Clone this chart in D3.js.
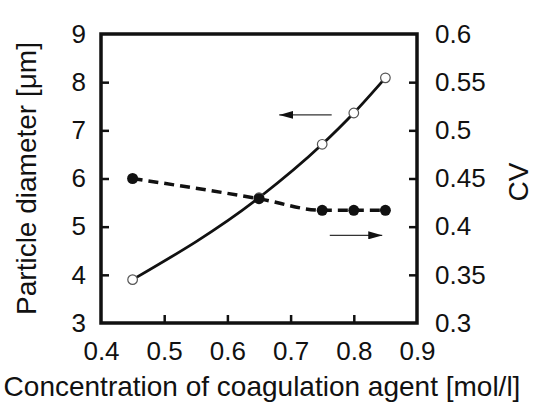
<!DOCTYPE html>
<html>
<head>
<meta charset="utf-8">
<script src="https://cdn.jsdelivr.net/npm/d3@7"></script>
<style>
  body { margin: 0; background: #fff; }
  text { font-family: "Liberation Sans", Arial, sans-serif; fill: #111; }
</style>
</head>
<body>
<svg id="chart" width="546" height="405"></svg>
<script>
  const concentration = [0.45, 0.65, 0.75, 0.80, 0.85];
  const diameter = [3.9, 5.6, 6.71, 7.36, 8.09];
  const cv = [0.45, 0.429, 0.417, 0.417, 0.417];

  const xTicks = [0.4, 0.5, 0.6, 0.7, 0.8, 0.9];
  const yLeftTicks = [3, 4, 5, 6, 7, 8, 9];
  const yRightTicks = [0.3, 0.35, 0.4, 0.45, 0.5, 0.55, 0.6];

  const svg = d3.select("#chart");
  const margin = { top: 34, right: 129, bottom: 82, left: 101 };
  const W = +svg.attr("width"), H = +svg.attr("height");
  const width = W - margin.left - margin.right;
  const height = H - margin.top - margin.bottom;

  const g = svg.append("g")
    .attr("transform", `translate(${margin.left},${margin.top})`);

  const x = d3.scaleLinear().domain([0.4, 0.9]).range([0, width]);
  const yL = d3.scaleLinear().domain([3, 9]).range([height, 0]);
  const yR = d3.scaleLinear().domain([0.3, 0.6]).range([height, 0]);

  const fmt = d3.format("");

  // axes with inward ticks
  const axL = g.append("g")
    .call(d3.axisLeft(yL).tickValues(yLeftTicks).tickSize(-8).tickPadding(15).tickFormat(fmt));
  const axR = g.append("g")
    .attr("transform", `translate(${width},0)`)
    .call(d3.axisRight(yR).tickValues(yRightTicks).tickSize(-8).tickPadding(18).tickFormat(fmt));
  const axB = g.append("g")
    .attr("transform", `translate(0,${height})`)
    .call(d3.axisBottom(x).tickValues(xTicks).tickSize(-8).tickPadding(19).tickFormat(fmt));

  [axL, axR, axB].forEach(a => {
    a.select(".domain").remove();
    a.selectAll(".tick line").attr("stroke", "#111").attr("stroke-width", 2.5);
    a.selectAll(".tick text").attr("font-size", 26).attr("fill", "#111")
      .attr("font-family", "Liberation Sans, Arial, sans-serif");
  });
  // no ticks at frame corners
  axL.selectAll(".tick").filter(d => d === 3 || d === 9).select("line").remove();
  axR.selectAll(".tick").filter(d => d === 0.3 || d === 0.6).select("line").remove();
  axB.selectAll(".tick").filter(d => d === 0.4 || d === 0.9).select("line").remove();

  // frame
  g.append("rect")
    .attr("width", width).attr("height", height)
    .attr("fill", "none").attr("stroke", "#111").attr("stroke-width", 3.5);

  // CV dashed line
  const lineCV = d3.line()
    .x((d, i) => x(concentration[i]))
    .y(d => yR(d))
    .curve(d3.curveMonotoneX);
  g.append("path")
    .attr("d", lineCV(cv))
    .attr("fill", "none").attr("stroke", "#111")
    .attr("stroke-width", 3.5).attr("stroke-dasharray", "10,6");

  // diameter solid line
  const lineD = d3.line()
    .x((d, i) => x(concentration[i]))
    .y(d => yL(d))
    .curve(d3.curveMonotoneX);
  g.append("path")
    .attr("d", lineD(diameter))
    .attr("fill", "none").attr("stroke", "#111").attr("stroke-width", 2.8);

  g.selectAll(".dDot").data(diameter).enter().append("circle")
    .attr("cx", (d, i) => x(concentration[i]))
    .attr("cy", d => yL(d))
    .attr("r", 4.8).attr("fill", "#fff").attr("stroke", "#555").attr("stroke-width", 1.2);

  g.selectAll(".cvDot").data(cv).enter().append("circle")
    .attr("cx", (d, i) => x(concentration[i]))
    .attr("cy", d => yR(d))
    .attr("r", 5.5).attr("fill", "#111");

  // arrows pointing to the axis of each series
  const defs = svg.append("defs");
  defs.append("marker").attr("id", "head")
    .attr("viewBox", "0 0 14 8").attr("refX", 14).attr("refY", 4)
    .attr("markerWidth", 14).attr("markerHeight", 8)
    .attr("markerUnits", "userSpaceOnUse").attr("orient", "auto")
    .append("path").attr("d", "M0,0L14,4L0,8Z").attr("fill", "#111");

  g.append("line")
    .attr("x1", x(0.765)).attr("x2", x(0.682))
    .attr("y1", yL(7.32)).attr("y2", yL(7.32))
    .attr("stroke", "#333").attr("stroke-width", 1.3).attr("marker-end", "url(#head)");
  g.append("line")
    .attr("x1", x(0.762)).attr("x2", x(0.845))
    .attr("y1", yR(0.391)).attr("y2", yR(0.391))
    .attr("stroke", "#333").attr("stroke-width", 1.3).attr("marker-end", "url(#head)");

  // axis titles
  svg.append("text")
    .attr("transform", `translate(36,${margin.top + height / 2}) rotate(-90)`)
    .attr("text-anchor", "middle").attr("font-size", 28)
    .text("Particle diameter [\u03bcm]");
  svg.append("text")
    .attr("transform", `translate(528,182) rotate(-90)`)
    .attr("text-anchor", "middle").attr("font-size", 28)
    .text("CV");
  svg.append("text")
    .attr("x", 262).attr("y", 396)
    .attr("text-anchor", "middle").attr("font-size", 28)
    .text("Concentration of coagulation agent [mol/l]");
</script>
</body>
</html>
